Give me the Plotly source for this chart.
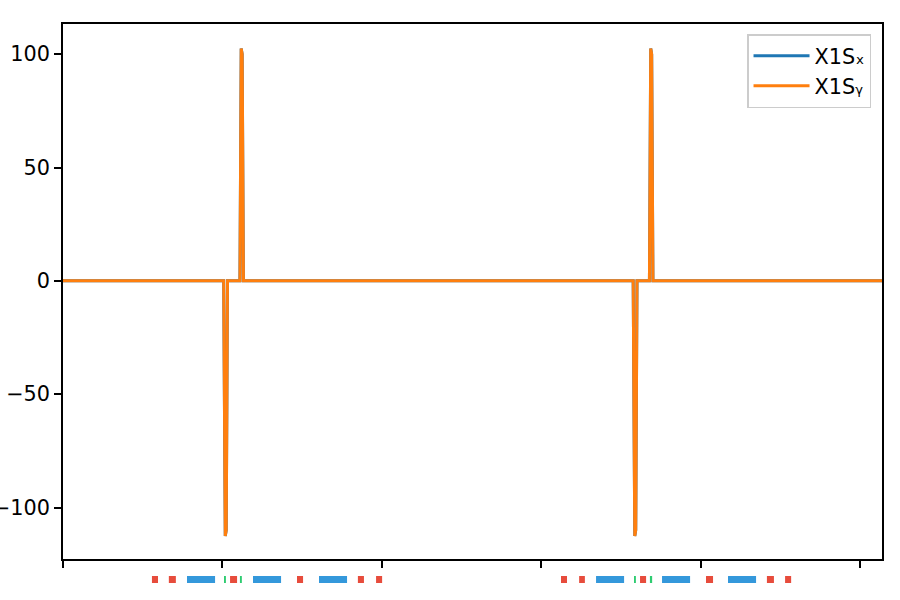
import plotly.graph_objects as go

# ---- data ----
time = [0, 50.4, 50.9, 51.2, 51.6, 55.5, 55.9, 56.2, 56.6,
        178.85, 179.35, 179.65, 180.05, 183.95, 184.35, 184.65, 185.05, 256.9]
x1sx = [0, 0, -112.5, -110, 0, 0, 102.5, 100, 0,
        0, -112.5, -110, 0, 0, 102.5, 100, 0, 0]
x1sy = [0, 0, -112.5, -110, 0, 0, 102.5, 100, 0,
        0, -112.5, -110, 0, 0, 102.5, 100, 0, 0]

mark_start = [27.9, 33.2, 38.9, 50.5, 52.4, 55.5, 59.6, 73.4, 80.3, 92.5, 98.2,
              156.2, 161.9, 167.2, 179.1, 181.0, 184.1, 187.9, 201.7, 208.6, 220.8, 226.5]
mark_end = [29.8, 35.4, 47.7, 51.1, 54.6, 56.1, 68.4, 75.3, 89.1, 94.4, 100.1,
            158.1, 163.7, 176.0, 179.7, 182.9, 184.8, 196.7, 203.9, 217.4, 223.0, 228.4]
mark_kind = ["R", "R", "B", "G", "R", "G", "B", "R", "B", "R", "R",
             "R", "R", "B", "G", "R", "G", "B", "R", "B", "R", "R"]

x_ticks = [0, 50, 100, 150, 200, 250]
y_ticks = [-100, -50, 0, 50, 100]

kind_color = {"R": "#e74c3c", "B": "#3498db", "G": "#2ecc71"}

fig = go.Figure()
fig.add_trace(go.Scatter(x=time, y=x1sx, mode="lines", name="X1S\u2093",
                         line=dict(color="#1f77b4", width=3)))
fig.add_trace(go.Scatter(x=time, y=x1sy, mode="lines", name="X1S\u1d67",
                         line=dict(color="#ff7f0e", width=3)))

for s, e, k in zip(mark_start, mark_end, mark_kind):
    fig.add_shape(type="rect", xref="x", yref="paper", x0=s, x1=e,
                  y0=-0.0449, y1=-0.0318, fillcolor=kind_color[k],
                  line=dict(width=0), layer="above")

font = dict(family="DejaVu Sans", size=20.8, color="black")
fig.update_layout(
    width=900, height=600,
    margin=dict(l=63, r=18, t=24, b=41),
    paper_bgcolor="white", plot_bgcolor="white",
    font=font,
    showlegend=True,
    legend=dict(x=0.9866, y=0.981, xanchor="right", yanchor="top",
                bordercolor="#cccccc", borderwidth=1.5, bgcolor="white",
                itemwidth=56, font=font),
    xaxis=dict(range=[0, 256.9], tickvals=x_ticks, showticklabels=False,
               ticks="outside", ticklen=7, tickwidth=1.6, tickcolor="black",
               showline=True, linecolor="black", linewidth=1.6, mirror=True,
               showgrid=False, zeroline=False, automargin=False),
    yaxis=dict(range=[-122.7, 113.3], tickvals=y_ticks,
               ticks="outside", ticklen=7, tickwidth=1.6, tickcolor="black",
               showline=True, linecolor="black", linewidth=1.6, mirror=True,
               showgrid=False, zeroline=False, automargin=False,
               tickfont=font),
)

fig.write_html("out.html")
